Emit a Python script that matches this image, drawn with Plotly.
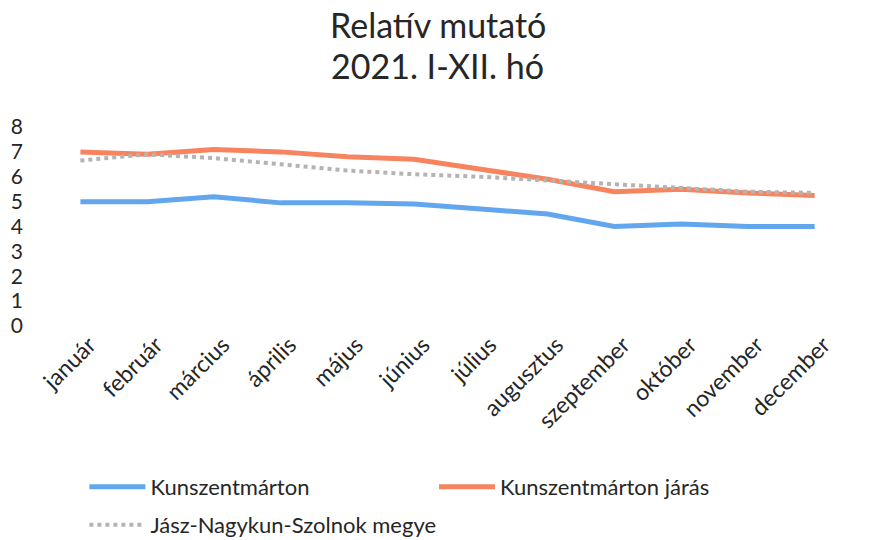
import plotly.graph_objects as go

months = ["január", "február", "március", "április", "május", "június",
          "július", "augusztus", "szeptember", "október", "november", "december"]
kunszentmarton = [5.0, 5.0, 5.2, 4.95, 4.95, 4.9, 4.7, 4.5, 4.0, 4.1, 4.0, 4.0]
kunszentmarton_jaras = [7.0, 6.9, 7.1, 7.0, 6.8, 6.7, 6.3, 5.9, 5.4, 5.5, 5.35, 5.25]
megye = [6.65, 6.9, 6.75, 6.5, 6.25, 6.1, 6.0, 5.85, 5.7, 5.55, 5.4, 5.35]
y_ticks = [0, 1, 2, 3, 4, 5, 6, 7, 8]
title_lines = ["Relatív mutató", "2021. I-XII. hó"]

FONT = "Lato"
TXT = "#262626"

fig = go.Figure()
fig.add_trace(go.Scatter(x=months, y=kunszentmarton, mode="lines",
                         name="Kunszentmárton", legend="legend",
                         line=dict(color="#62a6ee", width=5)))
fig.add_trace(go.Scatter(x=months, y=kunszentmarton_jaras, mode="lines",
                         name="Kunszentmárton járás", legend="legend3",
                         line=dict(color="#f7845f", width=5)))
fig.add_trace(go.Scatter(x=months, y=megye, mode="lines",
                         name="Jász-Nagykun-Szolnok megye", legend="legend2",
                         line=dict(color="#b4b4b4", width=4, dash="dot")))

fig.add_annotation(text=title_lines[0], xref="paper", yref="paper", x=0.488, y=1.515,
                   xanchor="center", yanchor="middle", showarrow=False,
                   font=dict(size=34, family=FONT, color=TXT))
fig.add_annotation(text=title_lines[1], xref="paper", yref="paper", x=0.488, y=1.31,
                   xanchor="center", yanchor="middle", showarrow=False,
                   font=dict(size=34, family=FONT, color=TXT))

legend_common = dict(orientation="h", xref="container", yref="container",
                     xanchor="left", yanchor="middle", itemwidth=56,
                     font=dict(size=22, family=FONT, color=TXT))

fig.update_layout(
    width=879, height=540,
    paper_bgcolor="white", plot_bgcolor="white",
    margin=dict(l=47, r=31, t=127, b=214),
    font=dict(family=FONT, color=TXT),
    xaxis=dict(type="category", range=[-0.5, 11.5], showgrid=False, zeroline=False,
               showline=False, automargin=False,
               tickangle=-45, tickfont=dict(size=23, family=FONT, color=TXT),
               ticks="", ticklabelshift=9),
    yaxis=dict(range=[0, 8], tickvals=y_ticks, showgrid=False, zeroline=False,
               showline=False, automargin=False,
               tickfont=dict(size=21, family=FONT, color=TXT),
               ticklabelstandoff=23),
    legend=dict(x=0.096, y=1 - 487 / 540, **legend_common),
    legend3=dict(x=434 / 879, y=1 - 487 / 540, **legend_common),
    legend2=dict(x=0.096, y=1 - 525 / 540, **legend_common),
    showlegend=True,
)

fig.write_html("out.html",
               config={"displayModeBar": False},
               post_script="document.body.style.margin='0';document.body.style.padding='0';")
